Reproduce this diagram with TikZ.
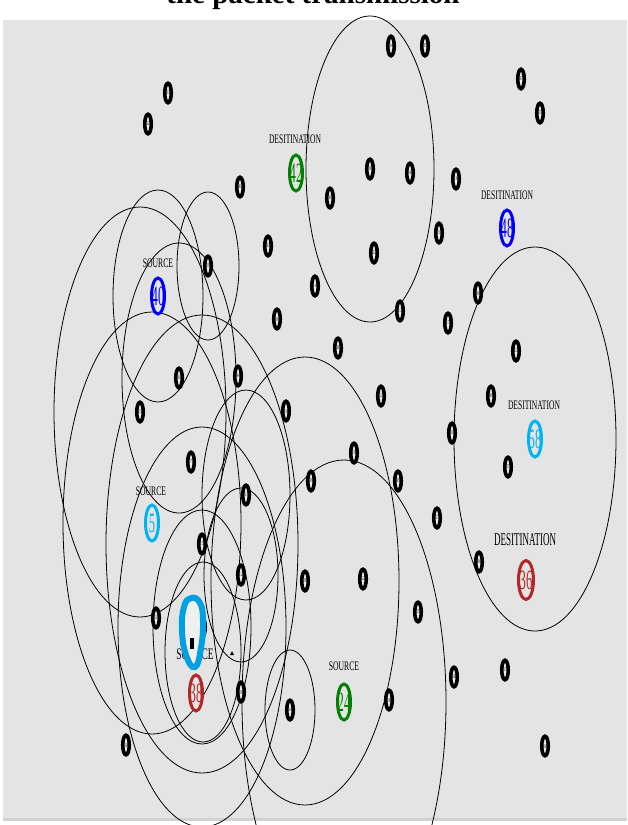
\documentclass[tikz,border=0pt]{standalone}
\usepackage{fontspec}
\setmainfont{Liberation Serif}
\usetikzlibrary{shapes.geometric}
\definecolor{bg}{RGB}{228,228,228}
\definecolor{ngreen}{RGB}{0,128,0}
\definecolor{nblue}{RGB}{0,0,255}
\definecolor{ncyan}{RGB}{0,180,240}
\definecolor{nred}{RGB}{178,40,40}
\definecolor{blobc}{RGB}{0,160,225}
\definecolor{ninner}{RGB}{240,240,240}
\newcommand{\ctr}[1]{\makebox[0pt]{\raisebox{-0.5\height}[0pt][0pt]{#1}}}
\newcommand{\bnum}[1]{\ctr{\scalebox{0.6}[1]{\fontsize{6}{6}\selectfont #1}}}
\newcommand{\cnum}[1]{\ctr{\scalebox{0.45}[1]{\fontsize{28}{28}\selectfont #1}}}
\pgfdeclarelayer{back}
\pgfdeclarelayer{ranges}
\pgfsetlayers{back,ranges,main}
\tikzset{
  rangering/.style={draw=black, line width=0.8pt},
  bnode/.style={shape=ellipse, draw=black, line width=3.6pt, fill=ninner, minimum width=6.5pt, minimum height=19.5pt, inner sep=0pt},
  cnode/.style={shape=ellipse, draw=#1, text=#1, line width=3pt, fill=bg, minimum width=13pt, minimum height=36pt, inner sep=0pt},
  tag/.style={inner sep=0pt, font=\fontsize{13}{13}\selectfont},
}
\begin{document}
\begin{tikzpicture}[x=1pt,y=-1pt]
\useasboundingbox (0,0) rectangle (627,825);
\begin{pgfonlayer}{back}
\fill[bg] (3,20) rectangle (627,818);
\fill[gray!35] (3,818) rectangle (627,821);
\end{pgfonlayer}
\node[anchor=base, inner sep=0pt, font=\bfseries\fontsize{29}{29}\selectfont] (title) at (313,3) {the packet transmission};
% black nodes
\foreach \n/\x/\y in {34/391/46, 35/425/46, 47/521/79, 37/540/113, 33/168/93, 32/148/124,
  41/240/187, 9/370/169, 4/410/173, 16/456/179, 8/330/198, 21/439/233, 43/268/246,
  22/374/253, 29/208/266, 30/478/293, 14/315/286, 13/400/311, 17/448/323, 0/277/319,
  11/338/348, 53/516/351, 6/179/378, 44/238/376, 2/381/396, 49/491/396, 23/140/412,
  10/286/411, 31/452/433, 19/354/453, 7/191/462, 27/508/467, 39/311/481, 45/398/481,
  1/246/495, 57/437/518, 15/202/544, 12/241/575, 26/305/581, 52/363/579, 46/479/562,
  25/418/612, 3/156/618, 20/241/692, 54/290/710, 28/389/700, 56/454/677, 55/505/670,
  50/126/745, 60/545/746, 59/202/627}
  \node[bnode] (n\n) at (\x,\y) {\bnum{\n}};
% coloured nodes
\node[cnode=ngreen] (n42) at (296,173) {\cnum{42}};
\node[cnode=nblue] (n48) at (507,228) {\cnum{48}};
\node[cnode=nblue] (n40) at (158,296) {\cnum{40}};
\node[cnode=ncyan] (n58) at (535,439) {\cnum{58}};
\node[cnode=ncyan] (n5) at (152,523) {\cnum{5}};
\node[cnode=nred, minimum width=15pt, minimum height=39pt] (n36) at (526,580) {\cnum{36}};
\node[cnode=ngreen] (n24) at (344,702) {\cnum{24}};
\node[cnode=nred] (n38) at (196,693) {\cnum{38}};
\coordinate (c14) at (203,652);
% labels
\node[tag] (t42) at (295,139) {\scalebox{0.58}[1]{DESITINATION}};
\node[tag] (t48) at (507,195) {\scalebox{0.58}[1]{DESITINATION}};
\node[tag] (t40) at (158,263) {\scalebox{0.59}[1]{SOURCE}};
\node[tag] (t58) at (534,405) {\scalebox{0.58}[1]{DESITINATION}};
\node[tag] (t5) at (151,491) {\scalebox{0.59}[1]{SOURCE}};
\node[tag, font=\fontsize{18}{18}\selectfont] (t36) at (525,540) {\scalebox{0.5}[1]{DESITINATION}};
\node[tag] (t24) at (344,666) {\scalebox{0.59}[1]{SOURCE}};
\node[tag, font=\fontsize{16}{16}\selectfont] (t38) at (195,654) {\scalebox{0.59}[1]{SOURCE}};
% transmission ranges
\begin{pgfonlayer}{ranges}
\draw[rangering] (n9) ellipse [x radius=64pt, y radius=153pt];
\draw[rangering] (n58) ellipse [x radius=81pt, y radius=192pt];
\draw[rangering] (n54) ellipse [x radius=25pt, y radius=60pt];
\draw[rangering] (n26) ellipse [x radius=94pt, y radius=224pt];
\draw[rangering] (n24) ellipse [x radius=102pt, y radius=242pt];
\draw[rangering] (n40) ellipse [x radius=45pt, y radius=106pt];
\draw[rangering] (n29) ellipse [x radius=31pt, y radius=74pt];
\draw[rangering] (n23) ellipse [x radius=86pt, y radius=205pt];
\draw[rangering] (n6) ellipse [x radius=57pt, y radius=135pt];
\draw[rangering] (n5) ellipse [x radius=89pt, y radius=211pt];
\draw[rangering] (n15) ellipse [x radius=96pt, y radius=229pt];
\draw[rangering] (n59) ellipse [x radius=49pt, y radius=117pt];
\draw[rangering] (n59) ellipse [x radius=84pt, y radius=200pt];
\draw[rangering] (c14) ellipse [x radius=38pt, y radius=90pt];
\draw[rangering] (n12) ellipse [x radius=37pt, y radius=87pt];
\draw[rangering] (n1) ellipse [x radius=44pt, y radius=105pt];
\end{pgfonlayer}
% packet blob
\draw[blobc, line width=6pt, fill=ninner] plot[smooth cycle, tension=0.8] coordinates {(191,598) (200,603) (203,621) (201,648) (195,667) (186,655) (182,630) (184,607)};
\fill[black] (190,638) rectangle (194,649);
\fill[black] (232,651) -- (234,655) -- (230,655) -- cycle;
\end{tikzpicture}
\end{document}
